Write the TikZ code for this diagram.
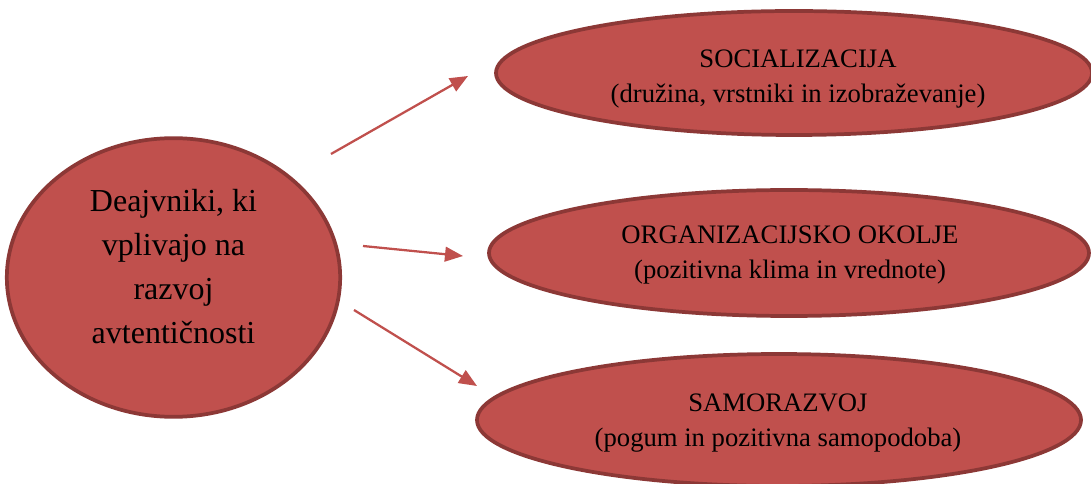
\documentclass[tikz,border=0pt]{standalone}
\usepackage{fontspec}
\setmainfont{Liberation Serif}
\usepackage{tikz}
\usetikzlibrary{arrows.meta,shapes.geometric}
\definecolor{accent}{RGB}{192,80,77}
\definecolor{rim}{RGB}{140,56,54}

\begin{document}
\begin{tikzpicture}[x=0.75pt,y=-0.75pt,
    blob/.style={ellipse,draw=rim,fill=accent,line width=2.8pt,inner sep=0pt},
    lbl/.style={align=center,font=\fontsize{20}{26}\selectfont,inner sep=0pt},
    arr/.style={-{Triangle[length=13.5pt,width=11pt]},accent,line width=1.7pt}]
    \useasboundingbox (0,0) rectangle (1091,484);
    % factor circle
    \node[blob,minimum width=250pt,minimum height=209pt] (src) at (173.5,277.5){};
    \node[lbl,font=\fontsize{24}{33}\selectfont] (srct) at (173.5,267){Deajvniki, ki\\vplivajo na\\razvoj\\avtentičnosti};
    % the three factors
    \node[blob,minimum width=447pt,minimum height=93pt] (soc) at (794,73){};
    \node[lbl] (soct) at (798,79){SOCIALIZACIJA\\(družina, vrstniki in izobraževanje)};
    \node[blob,minimum width=450pt,minimum height=94.5pt] (org) at (789,253){};
    \node[lbl] (orgt) at (790,255){ORGANIZACIJSKO OKOLJE\\(pozitivna klima in vrednote)};
    \node[blob,minimum width=453pt,minimum height=99pt] (sam) at (779,420){};
    \node[lbl] (samt) at (778,423){SAMORAZVOJ\\(pogum in pozitivna samopodoba)};
    % arrows
    \coordinate (a1s) at (331,154); \coordinate (a1e) at (468,76);
    \coordinate (a2s) at (363,246); \coordinate (a2e) at (463,256);
    \coordinate (a3s) at (354,310); \coordinate (a3e) at (477,386);
    \draw[arr] (a1s) -- (a1e);
    \draw[arr] (a2s) -- (a2e);
    \draw[arr] (a3s) -- (a3e);
\end{tikzpicture}
\end{document}
